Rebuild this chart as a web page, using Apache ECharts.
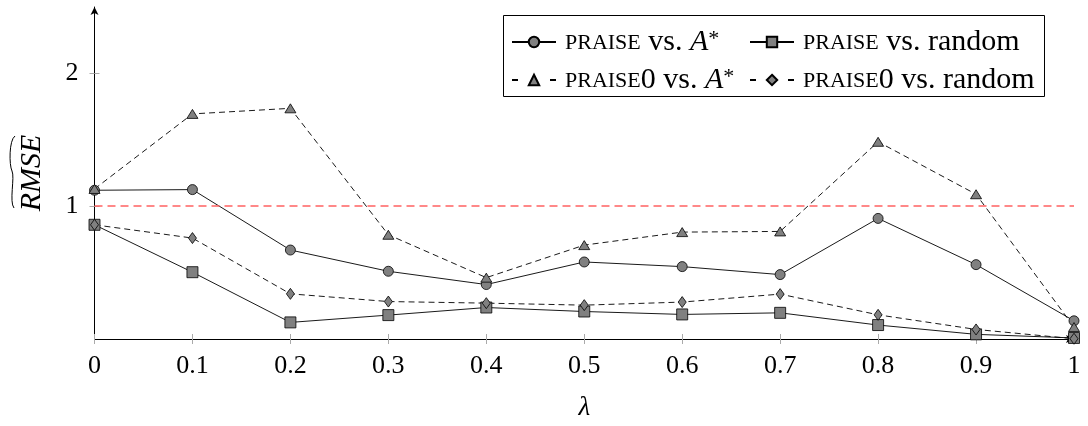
<!DOCTYPE html>
<html>
<head>
<meta charset="utf-8">
<script src="https://cdn.jsdelivr.net/npm/echarts@6/dist/echarts.min.js"></script>
<style>
  html, body { margin: 0; padding: 0; background: #fff; }
  #chart { width: 1088px; height: 426px; }
</style>
</head>
<body>
<div id="chart"></div>
<script>
// λ values on the x axis
const lambdas = [0, 0.1, 0.2, 0.3, 0.4, 0.5, 0.6, 0.7, 0.8, 0.9, 1];

// RMSE ratios per λ
const praiseVsAstar   = [1.12, 1.125, 0.67, 0.51, 0.41, 0.58, 0.545, 0.485, 0.908, 0.56, 0.137];
const praiseVsRandom  = [0.86, 0.503, 0.125, 0.18, 0.237, 0.207, 0.185, 0.197, 0.105, 0.035, 0.008];
const praise0VsAstar  = [1.13, 1.695, 1.737, 0.785, 0.462, 0.707, 0.805, 0.81, 1.485, 1.09, 0.09];
const praise0VsRandom = [0.86, 0.76, 0.34, 0.282, 0.27, 0.255, 0.278, 0.338, 0.182, 0.072, 0.002];

// reference level
const baseline = 1;
const yTickValues = [1, 2];

const seriesNames = ['PRAISE vs. A*', 'PRAISE vs. random', 'PRAISE0 vs. A*', 'PRAISE0 vs. random'];
const legendRich = {
  'PRAISE vs. A*': '{sc|PRAISE} vs. {it|A}{sup|*}',
  'PRAISE vs. random': '{sc|PRAISE} vs. random',
  'PRAISE0 vs. A*': '{sc|PRAISE}0 vs. {it|A}{sup|*}',
  'PRAISE0 vs. random': '{sc|PRAISE}0 vs. random'
};

const serif = '"Liberation Serif", "DejaVu Serif", serif';
const pairs = ys => lambdas.map((x, i) => [x, ys[i]]);

const markerStyle = { color: '#808080', borderColor: '#000', borderWidth: 0.8 };

function lineSeries(name, data, symbol, size, dashed) {
  return {
    name: name,
    type: 'line',
    data: pairs(data),
    symbol: symbol,
    symbolSize: size,
    showAllSymbol: true,
    clip: false,
    itemStyle: markerStyle,
    lineStyle: { color: '#000', width: 0.9, type: dashed ? [6, 4] : 'solid' },
    emphasis: { disabled: true }
  };
}

const s1 = lineSeries(seriesNames[0], praiseVsAstar, 'circle', 10, false);
s1.markLine = {
  silent: true,
  symbol: ['none', 'none'],
  label: { show: false },
  lineStyle: { color: '#ff6262', width: 1.5, type: [8, 5] },
  data: [{ yAxis: baseline }]
};

const legendText = {
  fontFamily: serif,
  fontSize: 30,
  lineHeight: 28,
  color: '#000',
  padding: [0, 0, 0, 4],
  rich: {
    sc: { fontFamily: serif, fontSize: 22, color: '#000', verticalAlign: 'bottom', padding: [0, 0, 2, 0] },
    it: { fontFamily: serif, fontSize: 30, fontStyle: 'italic', color: '#000' },
    sup: { fontFamily: serif, fontSize: 22, color: '#000', verticalAlign: 'top' }
  }
};

function legendColumn(left, names) {
  return {
    orient: 'vertical',
    left: left,
    top: 27,
    padding: 0,
    itemGap: 8,
    itemWidth: 44,
    itemHeight: 13,
    selectedMode: false,
    data: names.map(n => ({
      name: n,
      lineStyle: n.indexOf('PRAISE0') === 0 ? { type: [6, 13] } : undefined
    })),
    formatter: name => legendRich[name],
    textStyle: legendText
  };
}

const chart = echarts.init(document.getElementById('chart'), null, { renderer: 'canvas' });

chart.setOption({
  animation: false,
  backgroundColor: '#fff',
  grid: { left: 94.5, right: 14, top: 7, bottom: 85.7, containLabel: false },
  legend: [
    legendColumn(511, [seriesNames[0], seriesNames[2]]),
    legendColumn(749, [seriesNames[1], seriesNames[3]])
  ],
  xAxis: [{
    type: 'value',
    min: 0,
    max: 1,
    interval: 0.1,
    name: 'λ',
    nameLocation: 'middle',
    nameGap: 55,
    nameTextStyle: { fontFamily: serif, fontSize: 27, fontStyle: 'italic', color: '#000' },
    axisLine: { show: true, symbol: ['none', 'arrow'], symbolSize: [6, 8], lineStyle: { color: '#000', width: 1 } },
    axisTick: { show: true, length: 5, lineStyle: { color: '#aaa', width: 1 } },
    axisLabel: {
      margin: 14,
      fontFamily: serif,
      fontSize: 26,
      color: '#000',
      formatter: v => String(Math.round(v * 10) / 10)
    },
    splitLine: { show: false }
  }, {
    // inner half of the tick marks
    type: 'value',
    position: 'bottom',
    min: 0,
    max: 1,
    interval: 0.1,
    axisLine: { show: false },
    axisTick: { show: true, inside: true, length: 5, lineStyle: { color: '#aaa', width: 1 } },
    axisLabel: { show: false },
    splitLine: { show: false }
  }],
  yAxis: [{
    type: 'value',
    min: 0,
    max: 2.5,
    name: 'RMSE',
    nameLocation: 'middle',
    nameGap: 47,
    nameTextStyle: { fontFamily: serif, fontSize: 30, fontStyle: 'italic', color: '#000' },
    axisLine: { show: true, symbol: ['none', 'arrow'], symbolSize: [6, 8], lineStyle: { color: '#000', width: 1 } },
    axisTick: { show: true, length: 5, customValues: yTickValues, lineStyle: { color: '#aaa', width: 1 } },
    axisLabel: {
      margin: 16,
      fontFamily: serif,
      fontSize: 26,
      color: '#000',
      customValues: yTickValues
    },
    splitLine: { show: false }
  }, {
    type: 'value',
    position: 'left',
    min: 0,
    max: 2.5,
    axisLine: { show: false },
    axisTick: { show: true, inside: true, length: 5, customValues: yTickValues, lineStyle: { color: '#aaa', width: 1 } },
    axisLabel: { show: false },
    splitLine: { show: false }
  }],
  graphic: [
    // legend frame
    { type: 'rect', silent: true, z: 3,
      shape: { x: 503.5, y: 15.5, width: 541, height: 81 },
      style: { stroke: '#000', lineWidth: 1, fill: '#fff' } },
    // wide tilde over the rotated axis title
    { type: 'bezierCurve', silent: true,
      shape: { x1: 15, y1: 136, cpx1: 9, cpy1: 140, cpx2: 9, cpy2: 165, x2: 12, y2: 171 },
      style: { stroke: '#000', lineWidth: 1, fill: null } },
    { type: 'bezierCurve', silent: true,
      shape: { x1: 12, y1: 171, cpx1: 15, cpy1: 177, cpx2: 9, cpy2: 202, x2: 14, y2: 208 },
      style: { stroke: '#000', lineWidth: 1, fill: null } }
  ],
  series: [
    s1,
    lineSeries(seriesNames[1], praiseVsRandom, 'rect', 11, false),
    lineSeries(seriesNames[2], praise0VsAstar, 'triangle', [11, 9], true),
    lineSeries(seriesNames[3], praise0VsRandom, 'diamond', [8, 11], true)
  ]
});
</script>
</body>
</html>
